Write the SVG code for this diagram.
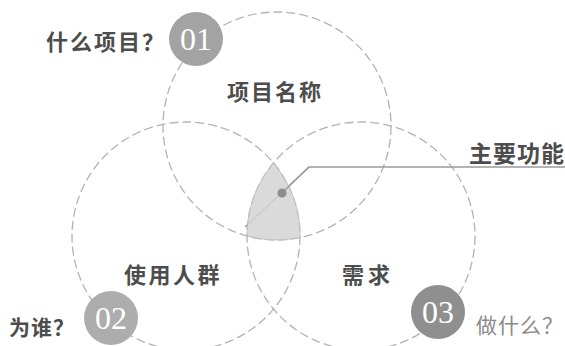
<svg xmlns="http://www.w3.org/2000/svg" width="565" height="346" viewBox="0 0 565 346">
<style>
.ring{fill:none;stroke:#b3b3b3;stroke-width:1.3;stroke-dasharray:9 4}
.lbl{font-family:"Noto Sans CJK SC","Noto Sans",sans-serif;font-weight:700;fill:#4d4d4d}
.num{font-family:"Liberation Serif","DejaVu Serif",serif;fill:#fff;font-size:32px;text-anchor:middle}
.lead{fill:none;stroke:#9a9a9a;stroke-width:1.3}
</style>
<rect width="565" height="346" fill="#fff"/>
<g id="rings">
<circle class="ring" cx="277" cy="126" r="114"/>
<circle class="ring" cx="186" cy="236" r="114"/>
<circle class="ring" cx="361" cy="236" r="114"/>
</g>
<g id="connectors">
<path class="lead" d="M245,227 L309,167 L565,167"/>
</g>
<g id="core">
<path d="M273.5,163 A114,114 0 0 0 247,236 A114,114 0 0 0 300,237.6 A114,114 0 0 0 273.5,163 Z" fill="#d4d4d4" fill-opacity="0.85" stroke="#bbb" stroke-width="0.8"/>
<path class="lead" d="M282,193 L309,167"/>
<circle cx="282" cy="193" r="4.5" fill="#8e8e8e"/>
<text class="lbl" x="469" y="162" font-size="23" letter-spacing="1" fill="#444">主要功能</text>
</g>
<g id="node-01">
<text class="lbl" x="46" y="50" font-size="22" letter-spacing="2">什么项目？</text>
<circle cx="196" cy="39" r="27" fill="#a3a3a3"/>
<text class="num" x="196" y="50">01</text>
<text class="lbl" x="227" y="100" font-size="22" letter-spacing="2">项目名称</text>
</g>
<g id="node-02">
<text class="lbl" x="9" y="335" font-size="21" letter-spacing="1">为谁？</text>
<circle cx="111" cy="318" r="27" fill="#adadad"/>
<text class="num" x="111" y="329">02</text>
<text class="lbl" x="124" y="283" font-size="22" letter-spacing="2.5">使用人群</text>
</g>
<g id="node-03">
<text class="lbl" x="342" y="283" font-size="22" letter-spacing="4">需求</text>
<circle cx="438" cy="312" r="27" fill="#8f8f8f"/>
<text class="num" x="438" y="323">03</text>
<text x="476" y="333" font-family="Noto Sans CJK SC,Noto Sans,sans-serif" font-size="21" letter-spacing="1" fill="#8a8a8a">做什么？</text>
</g>
</svg>
